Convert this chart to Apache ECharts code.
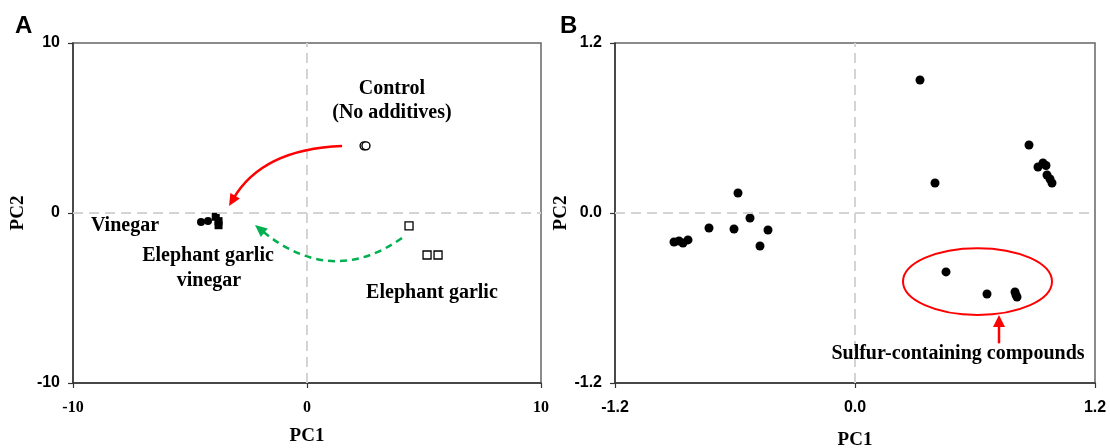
<!DOCTYPE html>
<html>
<head>
<meta charset="utf-8">
<script src="https://cdn.jsdelivr.net/npm/echarts@6/dist/echarts.min.js"></script>
<style>
  html, body { margin: 0; padding: 0; background: #fff; }
  #chart { width: 1110px; height: 448px; }
</style>
</head>
<body>
<div id="chart"></div>
<script>
// ---- Panel A: PCA scores by treatment (PC1, PC2) ----
const controlPts = [[2.44, 3.95], [2.52, 3.95]];
const garlicPts = [[4.36, -0.76], [5.13, -2.47], [5.6, -2.47]];
const vinegarPts = [[-4.53, -0.53], [-4.23, -0.47]];
const garlicVinegarPts = [[-3.9, -0.22], [-3.78, -0.48], [-3.78, -0.72]];

// ---- Panel B: loadings of volatile compounds ----
const loadingPts = [
  [-0.905, -0.205], [-0.88, -0.198], [-0.86, -0.212], [-0.835, -0.19],
  [-0.73, -0.106], [-0.585, 0.141], [-0.605, -0.113], [-0.525, -0.035],
  [-0.435, -0.12], [-0.475, -0.233],
  [0.325, 0.939], [0.4, 0.212], [0.87, 0.48], [0.915, 0.325],
  [0.94, 0.353], [0.955, 0.335], [0.96, 0.268], [0.975, 0.24], [0.985, 0.212],
  [0.455, -0.416], [0.66, -0.572], [0.8, -0.558], [0.81, -0.593], [0.805, -0.578]
];

// axis ranges and ticks
const axisA = { min: -10, max: 10, interval: 10 };
const axisB = { min: -1.2, max: 1.2, interval: 1.2 };

// text annotations in data coordinates
const labelsA = [
  { text: 'Control', at: [3.63, 7.3] },
  { text: '(No additives)', at: [3.63, 5.88] },
  { text: 'Vinegar', at: [-7.78, -0.76] },
  { text: 'Elephant garlic', at: [-4.23, -2.53] },
  { text: 'vinegar', at: [-4.19, -4.0] },
  { text: 'Elephant garlic', at: [5.34, -4.7] }
];
const labelsB = [
  { text: 'Sulfur-containing compounds', at: [0.515, -0.995] }
];
// curved arrows: start, control, end (data coordinates)
const redArrowA = { from: [1.5, 3.94], ctrl: [-1.92, 3.76], to: [-3.33, 0.41] };
const greenArrowA = { from: [4.06, -1.47], ctrl: [1.03, -4.41], to: [-2.22, -0.71] };
// sulfur group outline and pointer
const sulfurEllipse = { center: [0.6125, -0.484], radius: [0.3725, 0.236] };
const sulfurArrow = { from: [0.72, -0.92], to: [0.72, -0.72] };

const SERIF = '"Liberation Serif", "Times New Roman", serif';
const SANS = '"Liberation Sans", Arial, sans-serif';

function makeX(idx, range, labelFont, gap) {
  return {
    type: 'value', gridIndex: idx, min: range.min, max: range.max, interval: range.interval,
    name: 'PC1', nameLocation: 'middle', nameGap: gap,
    nameTextStyle: { fontFamily: SERIF, fontWeight: 'bold', fontSize: 19, color: '#000' },
    axisLine: { onZero: false, lineStyle: { color: '#333', width: 1.5 } },
    axisTick: { inside: false, length: 5, lineStyle: { color: '#333', width: 1.2 } },
    axisLabel: {
      margin: 17, fontFamily: labelFont, fontWeight: 'bold', fontSize: 16, color: '#000',
      formatter: v => idx === 1 ? v.toFixed(1) : String(v)
    },
    splitLine: { show: false }
  };
}
function makeY(idx, range, gap) {
  return {
    type: 'value', gridIndex: idx, min: range.min, max: range.max, interval: range.interval,
    name: 'PC2', nameLocation: 'middle', nameGap: gap,
    nameTextStyle: { fontFamily: SERIF, fontWeight: 'bold', fontSize: 19, color: '#000' },
    axisLine: { onZero: false, lineStyle: { color: '#333', width: 1.5 } },
    axisTick: { inside: false, length: 5, lineStyle: { color: '#333', width: 1.2 } },
    axisLabel: {
      margin: 13, fontFamily: SANS, fontWeight: 'bold', fontSize: 16, color: '#000',
      formatter: v => idx === 1 ? v.toFixed(1) : String(v)
    },
    splitLine: { show: false }
  };
}

const zeroLines = {
  silent: true, symbol: 'none', label: { show: false },
  lineStyle: { color: '#d4d4d4', width: 2, type: [10, 6] },
  data: [{ xAxis: 0 }, { yAxis: 0 }]
};

const chart = echarts.init(document.getElementById('chart'));
chart.setOption({
  animation: false,
  title: [
    { text: 'A', left: 10, top: 9, textStyle: { fontFamily: SANS, fontWeight: 'bold', fontSize: 24, color: '#000' } },
    { text: 'B', left: 555, top: 9, textStyle: { fontFamily: SANS, fontWeight: 'bold', fontSize: 24, color: '#000' } }
  ],
  grid: [
    { left: 73, top: 43, width: 468, height: 340, show: true, borderColor: '#666', borderWidth: 1.5,
      containLabel: false, outerBoundsMode: 'none' },
    { left: 615, top: 43, width: 480, height: 340, show: true, borderColor: '#666', borderWidth: 1.5,
      containLabel: false, outerBoundsMode: 'none' }
  ],
  xAxis: [makeX(0, axisA, SERIF, 44), makeX(1, axisB, SANS, 48)],
  yAxis: [makeY(0, axisA, 45), makeY(1, axisB, 40)],
  series: [
    { name: 'Control', type: 'scatter', xAxisIndex: 0, yAxisIndex: 0, data: controlPts,
      symbol: 'circle', symbolSize: 8,
      itemStyle: { color: '#fff', borderColor: '#000', borderWidth: 1.4, opacity: 1 }, markLine: zeroLines },
    { name: 'Elephant garlic', type: 'scatter', xAxisIndex: 0, yAxisIndex: 0, data: garlicPts,
      symbol: 'rect', symbolSize: 8,
      itemStyle: { color: '#fff', borderColor: '#000', borderWidth: 1.3, opacity: 1 } },
    { name: 'Vinegar', type: 'scatter', xAxisIndex: 0, yAxisIndex: 0, data: vinegarPts,
      symbol: 'circle', symbolSize: 8, itemStyle: { color: '#000', opacity: 1 } },
    { name: 'Elephant garlic vinegar', type: 'scatter', xAxisIndex: 0, yAxisIndex: 0, data: garlicVinegarPts,
      symbol: 'rect', symbolSize: 8, itemStyle: { color: '#000', opacity: 1 } },
    { name: 'Loadings', type: 'scatter', xAxisIndex: 1, yAxisIndex: 1, data: loadingPts,
      symbol: 'circle', symbolSize: 9, itemStyle: { color: '#000', opacity: 1 }, markLine: zeroLines }
  ]
});

// ---- annotations placed from data coordinates ----
const px = (g, p) => chart.convertToPixel({ gridIndex: g }, p);

function arrowHead(tip, from, color, len, half) {
  const dx = tip[0] - from[0], dy = tip[1] - from[1];
  const d = Math.hypot(dx, dy) || 1;
  const ux = dx / d, uy = dy / d;
  const bx = tip[0] - ux * len, by = tip[1] - uy * len;
  return {
    type: 'polygon', silent: true, z: 20,
    shape: { points: [tip, [bx - uy * half, by + ux * half], [bx + uy * half, by - ux * half]] },
    style: { fill: color }
  };
}
function curvedArrow(g, a, color, dash) {
  const p0 = px(g, a.from), c = px(g, a.ctrl), p1 = px(g, a.to);
  // stop the line a little short so it ends under the head
  const dx = p1[0] - c[0], dy = p1[1] - c[1], d = Math.hypot(dx, dy);
  const end = [p1[0] - dx / d * 8, p1[1] - dy / d * 8];
  return [
    { type: 'bezierCurve', silent: true, z: 19,
      shape: { x1: p0[0], y1: p0[1], cpx1: c[0], cpy1: c[1], x2: end[0], y2: end[1] },
      style: { stroke: color, lineWidth: 2.5, fill: null, lineDash: dash || null } },
    arrowHead(p1, c, color, 12, 5.5)
  ];
}
function textEl(g, l, size) {
  const p = px(g, l.at);
  return {
    type: 'text', silent: true, z: 21, x: p[0], y: p[1],
    style: { text: l.text, fill: '#000', font: 'bold ' + size + 'px ' + SERIF, align: 'center', verticalAlign: 'middle' }
  };
}

const graphics = [];
labelsA.forEach(l => graphics.push(textEl(0, l, 20)));
labelsB.forEach(l => graphics.push(textEl(1, l, 20)));
graphics.push(...curvedArrow(0, redArrowA, '#ff0000'));
graphics.push(...curvedArrow(0, greenArrowA, '#00b050', [7, 5]));

const ec = px(1, sulfurEllipse.center);
const ee = px(1, [sulfurEllipse.center[0] + sulfurEllipse.radius[0], sulfurEllipse.center[1] - sulfurEllipse.radius[1]]);
graphics.push({
  type: 'ellipse', silent: true, z: 19,
  shape: { cx: ec[0], cy: ec[1], rx: ee[0] - ec[0], ry: ee[1] - ec[1] },
  style: { stroke: '#ff0000', lineWidth: 2, fill: null }
});
const s0 = px(1, sulfurArrow.from), s1 = px(1, sulfurArrow.to);
graphics.push({
  type: 'line', silent: true, z: 19,
  shape: { x1: s0[0], y1: s0[1], x2: s1[0], y2: s1[1] + 8 },
  style: { stroke: '#ff0000', lineWidth: 2.5 }
});
graphics.push(arrowHead(s1, s0, '#ff0000', 12, 6));

chart.setOption({ graphic: graphics });
</script>
</body>
</html>
